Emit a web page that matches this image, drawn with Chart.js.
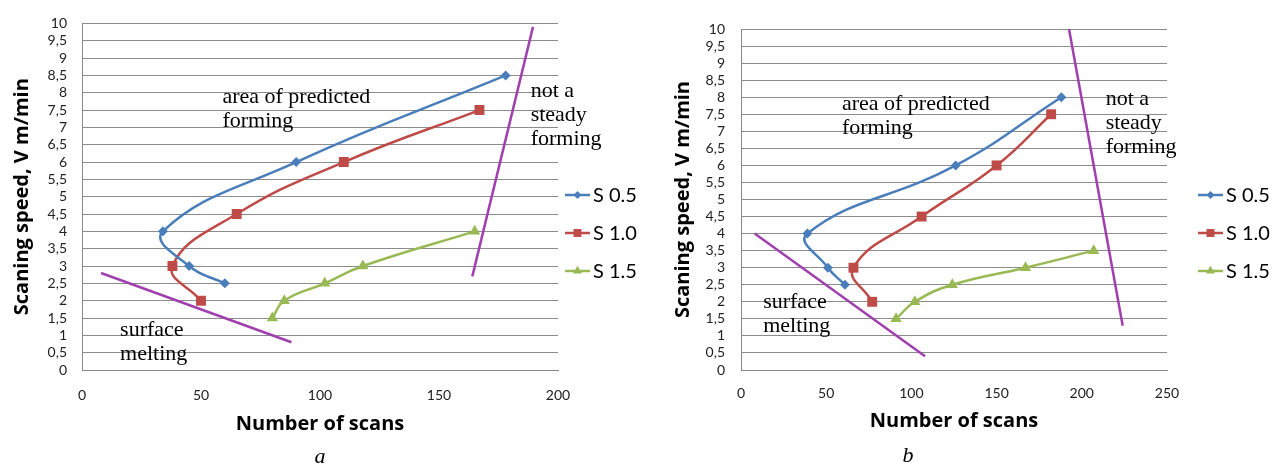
<!DOCTYPE html>
<html>
<head>
<meta charset="utf-8">
<script src="https://cdn.jsdelivr.net/npm/chart.js@4/dist/chart.umd.min.js"></script>
<style>
  body { margin: 0; background: #fff; width: 1274px; height: 464px; position: relative; overflow: hidden; }
  canvas { position: absolute; top: 0; }
  #chartA { left: 0; }
  #chartB { left: 640px; }
  .caption { position: absolute; font: italic 22px "Liberation Serif", serif; color: #000; transform: translate(-50%, -50%); }
</style>
</head>
<body>
<canvas id="chartA" width="660" height="464"></canvas>
<canvas id="chartB" width="634" height="464"></canvas>
<div class="caption" style="left:320px; top:456px">a</div>
<div class="caption" style="left:908px; top:455px">b</div>
<script>
// chart a: number of scans vs scanning speed
const seriesLabels = ['S 0.5', 'S 1.0', 'S 1.5'];
const speedA05 = [2.5, 3, 4, 6, 8.5];
const scansA05 = [60, 45, 34, 90, 178];
const speedA10 = [2, 3, 4.5, 6, 7.5];
const scansA10 = [50, 38, 65, 110, 167];
const speedA15 = [1.5, 2, 2.5, 3, 4];
const scansA15 = [80, 85, 102, 118, 165];
// boundary lines a
const meltA = [[8, 2.8], [88, 0.8]];
const steadyA = [[164, 2.7], [189.5, 9.9]];

// chart b
const speedB05 = [2.5, 3, 4, 6, 8];
const scansB05 = [61, 51, 39, 126, 188];
const speedB10 = [2, 3, 4.5, 6, 7.5];
const scansB10 = [77, 66, 106, 150, 182];
const speedB15 = [1.5, 2, 2.5, 3, 3.5];
const scansB15 = [91, 102, 124, 167, 207];
const meltB = [[8, 4.0], [108, 0.4]];
const steadyB = [[192.5, 10], [224, 1.3]];

const speedTicks = { min: 0, max: 10, step: 0.5 };

const colors = ['#4A7EBB', '#BE4B48', '#98B954'];
const markers = [
  { style: 'rectRot', radius: 5 },
  { style: 'rect', radius: 7 },
  { style: 'triangle', radius: 6.5 }
];
const boundaryColor = '#A03FAE';
const sans = 'Lato, "Open Sans", sans-serif';
const titleFont = '"Open Sans", Lato, sans-serif';
const serif = '"Liberation Serif", "Times New Roman", serif';

function pts(xs, ys) {
  return xs.map((x, i) => ({ x: x, y: ys[i] }));
}

function seriesSet(i, xs, ys) {
  return {
    label: seriesLabels[i],
    data: pts(xs, ys),
    showLine: true,
    tension: 0.45,
    borderColor: colors[i],
    backgroundColor: colors[i],
    borderWidth: 2.5,
    pointStyle: markers[i].style,
    pointRadius: markers[i].radius,
    pointHoverRadius: markers[i].radius,
    pointBorderWidth: 0,
    inLegend: true
  };
}

function boundarySet(line) {
  return {
    label: '',
    data: line.map(p => ({ x: p[0], y: p[1] })),
    showLine: true,
    tension: 0,
    borderColor: boundaryColor,
    borderWidth: 2.5,
    pointRadius: 0,
    clip: false
  };
}

// text notes placed at data coordinates
const notesPlugin = {
  id: 'notes',
  afterDraw(chart, args, opts) {
    const ctx = chart.ctx;
    const xs = chart.scales.x, ys = chart.scales.y;
    ctx.save();
    ctx.font = opts.font;
    ctx.fillStyle = '#000';
    ctx.textAlign = 'left';
    ctx.textBaseline = 'middle';
    opts.items.forEach(n => {
      const px = xs.getPixelForValue(n.x);
      let py = ys.getPixelForValue(n.y);
      n.lines.forEach(line => {
        ctx.fillText(line, px, py);
        py += opts.lineGap;
      });
    });
    ctx.restore();
  }
};

// Excel-like legend: short line with a marker, to the right of the plot
const sideLegend = {
  id: 'sideLegend',
  afterDraw(chart, args, opts) {
    const ctx = chart.ctx;
    const items = chart.data.datasets.filter(d => d.inLegend);
    const x0 = chart.chartArea.right + opts.gap;
    let y = opts.centerY - (items.length - 1) * opts.spacing / 2;
    ctx.save();
    items.forEach(d => {
      ctx.strokeStyle = d.borderColor;
      ctx.fillStyle = d.backgroundColor;
      ctx.lineWidth = 2.5;
      ctx.beginPath();
      ctx.moveTo(x0, y);
      ctx.lineTo(x0 + 25, y);
      ctx.stroke();
      Chart.helpers.drawPoint(ctx, { pointStyle: d.pointStyle, radius: d.pointRadius * 0.8, rotation: 0, borderWidth: 0 }, x0 + 12.5, y);
      ctx.fillStyle = '#000';
      ctx.font = opts.font;
      ctx.textBaseline = 'middle';
      ctx.fillText(d.label, x0 + 28, y + 1);
      y += opts.spacing;
    });
    ctx.restore();
  }
};

function makeChart(id, cfg) {
  const datasets = [
    seriesSet(0, cfg.s05[0], cfg.s05[1]),
    seriesSet(1, cfg.s10[0], cfg.s10[1]),
    seriesSet(2, cfg.s15[0], cfg.s15[1]),
    boundarySet(cfg.melt),
    boundarySet(cfg.steady)
  ];
  return new Chart(document.getElementById(id), {
    type: 'scatter',
    data: { datasets: datasets },
    plugins: [notesPlugin, sideLegend],
    options: {
      responsive: false,
      animation: false,
      events: [],
      layout: { padding: cfg.padding },
      plugins: {
        legend: { display: false },
        tooltip: { enabled: false },
        notes: { font: '22px ' + serif, lineGap: 24, items: cfg.notes },
        sideLegend: { gap: cfg.legendGap, centerY: 233, spacing: 38, font: '20px ' + sans }
      },
      scales: {
        x: {
          type: 'linear',
          min: 0,
          max: cfg.xMax,
          ticks: { stepSize: 50, padding: cfg.xTickPad, color: '#222', font: { family: sans, size: 14 } },
          grid: { display: false, drawTicks: false },
          border: { display: true, color: '#888', width: 1 },
          title: { display: true, text: 'Number of scans', color: '#000', padding: 0, font: { family: titleFont, size: 20, weight: 'bold' } },
          afterFit: s => { s.height = cfg.xAxisH; }
        },
        y: {
          type: 'linear',
          min: speedTicks.min,
          max: speedTicks.max,
          ticks: {
            stepSize: speedTicks.step,
            autoSkip: false,
            padding: cfg.yTickPad,
            color: '#222',
            font: { family: sans, size: 14 },
            callback: v => String(v).replace('.', ',')
          },
          grid: { color: '#8c8c8c', lineWidth: 1, drawTicks: false },
          border: { display: true, color: '#888', width: 1 },
          title: { display: true, text: 'Scaning speed, V m/min', color: '#000', padding: 0, font: { family: titleFont, size: 20, weight: 'bold' } },
          afterFit: s => { s.width = cfg.yAxisW; }
        }
      }
    }
  });
}

makeChart('chartA', {
  s05: [scansA05, speedA05], s10: [scansA10, speedA10], s15: [scansA15, speedA15],
  melt: meltA, steady: steadyA, xMax: 200,
  padding: { left: 10, top: 20, right: 102, bottom: 28 },
  xAxisH: 66, yAxisW: 72, xTickPad: 17, yTickPad: 15, legendGap: 7,
  notes: [
    { x: 59, y: 7.86, lines: ['area of predicted', 'forming'] },
    { x: 188.5, y: 8.05, lines: ['not a', 'steady', 'forming'] },
    { x: 16, y: 1.14, lines: ['surface', 'melting'] }
  ]
});

makeChart('chartB', {
  s05: [scansB05, speedB05], s10: [scansB10, speedB10], s15: [scansB15, speedB15],
  melt: meltB, steady: steadyB, xMax: 250,
  padding: { left: 31, top: 29, right: 107, bottom: 31 },
  xAxisH: 63, yAxisW: 70, xTickPad: 15, yTickPad: 16, legendGap: 31,
  notes: [
    { x: 59.2, y: 7.8, lines: ['area of predicted', 'forming'] },
    { x: 214, y: 7.95, lines: ['not a', 'steady', 'forming'] },
    { x: 13, y: 1.99, lines: ['surface', 'melting'] }
  ]
});
</script>
</body>
</html>
